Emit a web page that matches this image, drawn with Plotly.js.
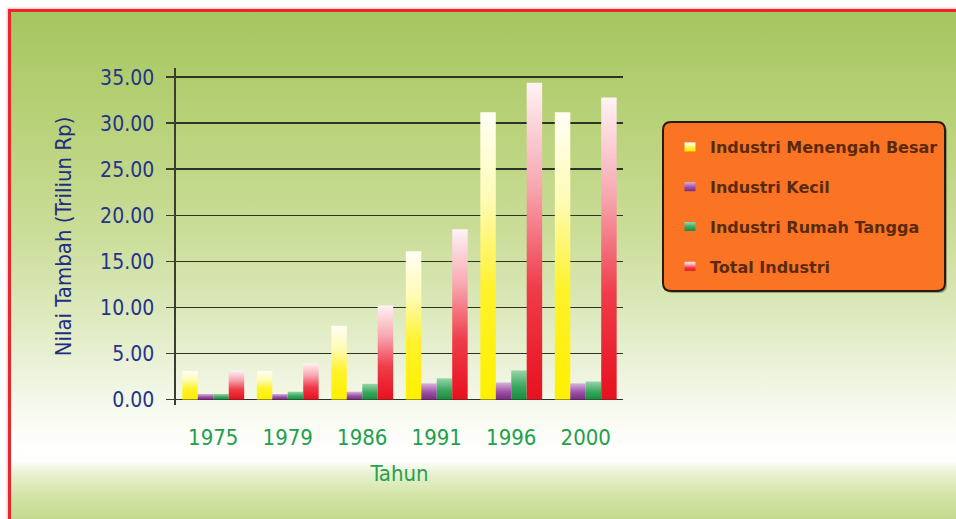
<!DOCTYPE html>
<html>
<head>
<meta charset="utf-8">
<script src="https://cdn.plot.ly/plotly-3.0.1.min.js"></script>
<style>
  html, body { margin: 0; padding: 0; background: #ffffff; overflow: hidden; }
  #frame {
    position: absolute; left: 8px; top: 9px; width: 960px; height: 520px;
    border-left: 3px solid #e8262c; border-top: 3px solid #e8262c;
    box-shadow: -1px -1px 2px rgba(240,120,120,0.5);
    background: linear-gradient(to bottom,
      #a6c660 0%, #b7d177 20%, #cadd98 42%, #dde9bd 58%, #eef4de 70%,
      #fafcf3 79%, #ffffff 84%, #fdfefa 86.5%, #e9f2d4 88.5%, #d3e4a6 93%, #bdd582 100%);
  }
  #chart { position: absolute; left: 0; top: 0; width: 956px; height: 519px; }
</style>
</head>
<body>
<div id="frame"></div>
<div id="chart"></div>
<script>
// Nilai tambah industri (triliun Rp) per tahun
const years = ['1975', '1979', '1986', '1991', '1996', '2000'];
const menengahBesar = [3.1, 3.1, 8.0, 16.1, 31.2, 31.2];
const kecil = [0.6, 0.6, 0.85, 1.75, 1.85, 1.75];
const rumahTangga = [0.6, 0.85, 1.7, 2.3, 3.15, 1.95];
const totalIndustri = [3.15, 3.9, 10.2, 18.5, 34.4, 32.8];
const seriesNames = ['Industri Menengah Besar', 'Industri Kecil', 'Industri Rumah Tangga', 'Total Industri'];
const yTicks = [0, 5, 10, 15, 20, 25, 30, 35];

// vertical gradients (top -> bottom) for each series
const gradients = [
  [['0%', '#fffff4'], ['30%', '#fffbb8'], ['62%', '#fff22a'], ['100%', '#fff000']],
  [['0%', '#d7b2e0'], ['55%', '#9c52a6'], ['100%', '#7a2a82']],
  [['0%', '#96d6a8'], ['55%', '#3aa860'], ['100%', '#178c3c']],
  [['0%', '#fff3f5'], ['33%', '#f7a6b0'], ['65%', '#ef3c4a'], ['100%', '#e8101e']]
];
const flatColors = ['#fff22a', '#9c52a6', '#3aa860', '#ef3c4a'];

const W = 956, H = 519;
const M = { l: 176, r: 333, t: 68, b: 114 };
const plotW = W - M.l - M.r, plotH = H - M.t - M.b;
const px = x => (x - M.l) / plotW;
const py = y => (H - M.b - y) / plotH;

const font = '"DejaVu Sans Condensed", "DejaVu Sans", sans-serif';

const seriesValues = [menengahBesar, kecil, rumahTangga, totalIndustri];
const traces = seriesValues.map((vals, i) => ({
  type: 'bar',
  x: years,
  y: vals,
  name: seriesNames[i],
  legendgroup: 'g' + i,
  marker: { color: flatColors[i], line: { width: 0 } },
  hoverinfo: 'skip'
}));

// rounded legend panel
function roundRect(x0, y0, x1, y1, r) {
  const rx = r / plotW, ry = r / plotH;
  const X0 = px(x0), X1 = px(x1), Yt = py(y0), Yb = py(y1);
  return `M${X0 + rx},${Yt} L${X1 - rx},${Yt} Q${X1},${Yt} ${X1},${Yt - ry} ` +
         `L${X1},${Yb + ry} Q${X1},${Yb} ${X1 - rx},${Yb} L${X0 + rx},${Yb} ` +
         `Q${X0},${Yb} ${X0},${Yb + ry} L${X0},${Yt - ry} Q${X0},${Yt} ${X0 + rx},${Yt} Z`;
}

const layout = {
  width: W, height: H,
  margin: M,
  paper_bgcolor: 'rgba(0,0,0,0)',
  plot_bgcolor: 'rgba(0,0,0,0)',
  barmode: 'group',
  bargap: 0.17,
  bargroupgap: 0,
  showlegend: true,
  xaxis: {
    type: 'category',
    range: [-0.5, 5.5],
    showgrid: false, showline: false, zeroline: false, ticks: '',
    tickfont: { family: font, size: 22, color: '#22a04a' },
    ticklabelstandoff: 17,
    title: { text: 'Tahun', font: { family: font, size: 22, color: '#2aa050' }, standoff: 16 }
  },
  yaxis: {
    range: [-0.6, 36.0],
    tickvals: yTicks,
    tickformat: '.2f',
    showgrid: true, gridcolor: '#2e3326', gridwidth: 1.6,
    zeroline: true, zerolinecolor: '#2e3326', zerolinewidth: 1.6,
    showline: true, linecolor: '#3a3d30', linewidth: 1.6,
    ticks: 'outside', ticklen: 8, tickwidth: 1.6, tickcolor: '#3a3d30',
    ticklabelstandoff: 8,
    tickfont: { family: font, size: 21, color: '#23348a' },
    title: { text: 'Nilai Tambah (Triliun Rp)', font: { family: font, size: 22, color: '#1f2d82' }, standoff: 22 }
  },
  legend: {
    x: px(670), xanchor: 'left',
    y: py(130), yanchor: 'top',
    bgcolor: 'rgba(0,0,0,0)', borderwidth: 0,
    font: { family: '"DejaVu Sans", sans-serif', size: 16, color: '#5b2a0e', weight: 'bold' },
    tracegroupgap: 16
  },
  shapes: [
    { type: 'path', xref: 'paper', yref: 'paper', layer: 'below',
      path: roundRect(665, 124, 947, 293, 8),
      fillcolor: 'rgba(40,30,10,0.35)', line: { width: 0 } },
    { type: 'path', xref: 'paper', yref: 'paper', layer: 'below',
      path: roundRect(663, 122, 945, 291, 8),
      fillcolor: '#fa7424', line: { color: '#2a1a0a', width: 2 } }
  ]
};

Plotly.newPlot('chart', traces, layout, { staticPlot: true, displayModeBar: false }).then(gd => {
  const svg = gd.querySelector('svg.main-svg');
  const NS = 'http://www.w3.org/2000/svg';
  const defs = document.createElementNS(NS, 'defs');
  gradients.forEach((stops, i) => {
    const g = document.createElementNS(NS, 'linearGradient');
    g.setAttribute('id', 'barGrad' + i);
    g.setAttribute('x1', '0'); g.setAttribute('y1', '0');
    g.setAttribute('x2', '0'); g.setAttribute('y2', '1');
    stops.forEach(([off, col]) => {
      const s = document.createElementNS(NS, 'stop');
      s.setAttribute('offset', off);
      s.setAttribute('stop-color', col);
      g.appendChild(s);
    });
    defs.appendChild(g);
  });
  svg.insertBefore(defs, svg.firstChild);

  gd.querySelectorAll('.barlayer .trace').forEach((tr, i) => {
    tr.querySelectorAll('.point path').forEach(p => { p.style.fill = `url(#barGrad${i})`; });
  });
  gd.querySelectorAll('.legend .traces').forEach((tr, i) => {
    tr.querySelectorAll('.legendpoints path').forEach(p => {
      p.style.fill = `url(#barGrad${i})`;
      p.setAttribute('d', 'M5.5,4.5H-5.5V-4.5H5.5Z');
    });
  });
});
</script>
</body>
</html>
